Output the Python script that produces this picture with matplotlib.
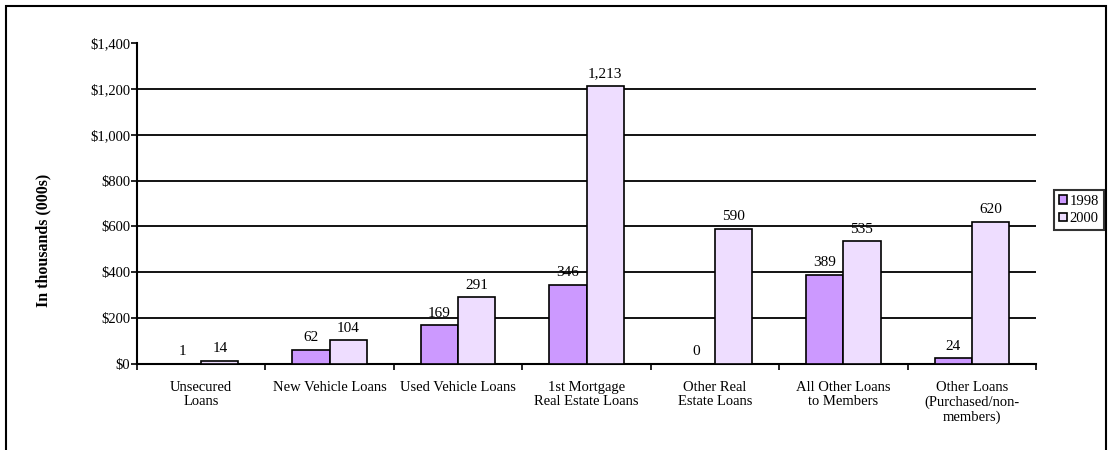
import matplotlib
matplotlib.use("Agg")
import matplotlib.pyplot as plt
import numpy as np
from matplotlib.patches import Rectangle
from matplotlib.ticker import FuncFormatter

categories = ["Unsecured\nLoans", "New Vehicle Loans", "Used Vehicle Loans",
              "1st Mortgage\nReal Estate Loans", "Other Real\nEstate Loans",
              "All Other Loans\nto Members", "Other Loans\n(Purchased/non-\nmembers)"]
series_names = ["1998", "2000"]
values_1998 = [1, 62, 169, 346, 0, 389, 24]
values_2000 = [14, 104, 291, 1213, 590, 535, 620]
colors = ["#CC99FF", "#EEDDFF"]

plt.rcParams['font.family'] = ['Liberation Serif', 'DejaVu Serif']

fig = plt.figure(figsize=(11.12, 4.5), dpi=100)
fig.patches.append(Rectangle((6/1112, -0.1), 1100/1112, 1.1 - 6/450, transform=fig.transFigure,
                             fill=False, edgecolor='black', linewidth=1.5))
ax = fig.add_axes([137/1112, 1 - 364/450, (1036-137)/1112, (364-43)/450])

x = np.arange(len(categories))
w = 0.29
b1 = ax.bar(x - w/2, values_1998, w, color=colors[0], edgecolor='black', linewidth=1.2, label=series_names[0], zorder=3)
b2 = ax.bar(x + w/2, values_2000, w, color=colors[1], edgecolor='black', linewidth=1.2, label=series_names[1], zorder=3)

for bars, vals in ((b1, values_1998), (b2, values_2000)):
    for r, v in zip(bars, vals):
        ax.annotate(f"{v:,}", (r.get_x() + r.get_width()/2, v), xytext=(0, 4),
                    textcoords='offset points', ha='center', va='bottom', fontsize=11, zorder=4)

ax.set_ylim(0, 1400)
ax.set_xlim(-0.5, len(categories) - 0.5)
ax.set_yticks(np.arange(0, 1401, 200))
ax.yaxis.set_major_formatter(FuncFormatter(lambda v, p: f"${int(v):,}"))
for yv in np.arange(200, 1201, 200):
    ax.axhline(yv, color='black', linewidth=1.3, zorder=1)

ax.set_xticks(x)
ax.set_xticklabels(categories, fontsize=10.5, linespacing=1.15)
ax.tick_params(axis='x', which='major', length=0, pad=12)
ax.set_xticks(np.arange(-0.5, len(categories)), minor=True)
ax.tick_params(axis='x', which='minor', length=4, width=1.2, direction='out')
ax.tick_params(axis='y', length=4, width=1.2, direction='out', labelsize=10.5, pad=1)

for s in ('top', 'right'):
    ax.spines[s].set_visible(False)
for s in ('left', 'bottom'):
    ax.spines[s].set_linewidth(1.5)

fig.text(43/1112, 1 - 240/450, "In thousands (000s)", rotation=90, ha='center', va='center',
         fontsize=11.5, fontweight='bold')

leg = fig.legend(handles=[b1, b2], labels=series_names, loc='center', bbox_to_anchor=(1079/1112, 1 - 210/450),
                 fontsize=10.5, frameon=True, fancybox=False, edgecolor='black', handlelength=0.5,
                 handleheight=0.5, handletextpad=0.2, borderpad=0.35, labelspacing=0.3, borderaxespad=0)
leg.get_frame().set_linewidth(1.5)

fig.savefig("out.png", dpi=100)
